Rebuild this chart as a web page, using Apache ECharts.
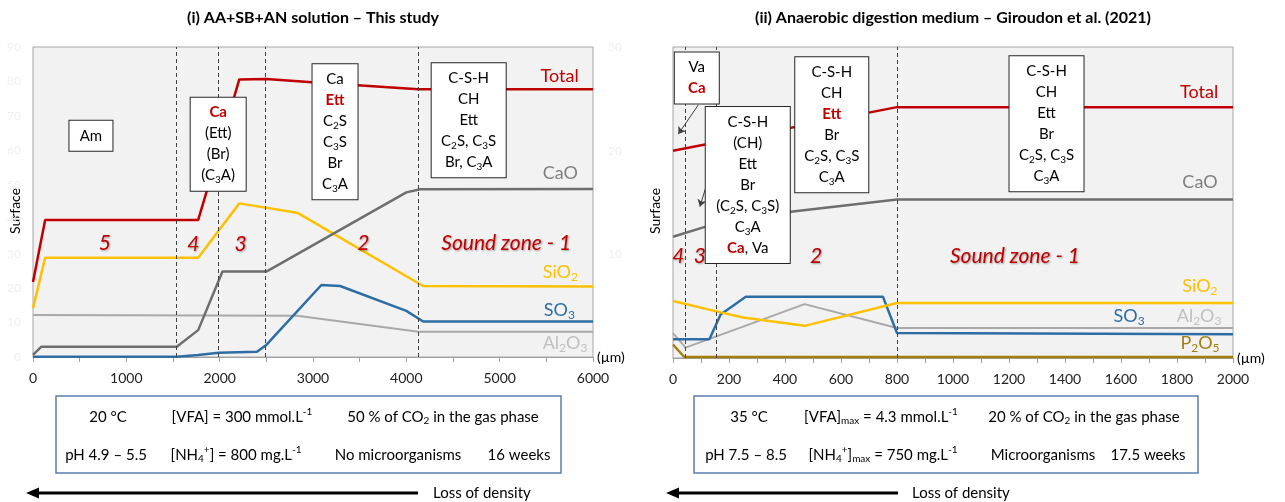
<!DOCTYPE html>
<html>
<head>
<meta charset="utf-8">
<script src="https://cdn.jsdelivr.net/npm/echarts@6/dist/echarts.min.js"></script>
<style>
  html, body { margin: 0; padding: 0; background: #fff; }
  #chart { width: 1285px; height: 502px; }
</style>
</head>
<body>
<div id="chart"></div>
<script>
// ---- (i) AA+SB+AN solution: oxide surface profiles vs depth (µm) ----
const leftTotal = [[0, 21.8], [130, 39.8], [1770, 39.8], [1860, 48.0], [2210, 80.6], [2500, 80.7], [2990, 79.8], [4130, 77.7], [6000, 77.7]];
const leftCaO   = [[0, 0.6], [90, 3.0], [1540, 3.0], [1770, 7.8], [2030, 24.8], [2500, 24.8], [4000, 47.8], [4150, 48.7], [6000, 48.8]];
const leftSiO2  = [[0, 14.2], [130, 28.8], [1770, 28.8], [2210, 44.6], [2830, 41.9], [4180, 20.6], [6000, 20.5]];
const leftSO3   = [[0, 0.1], [1540, 0.1], [1770, 0.6], [1990, 1.2], [2400, 1.5], [2500, 3.5], [3090, 20.9], [3290, 20.6], [4000, 13.4], [4180, 10.3], [6000, 10.3]];
const leftAl2O3 = [[0, 12.2], [2830, 12.0], [4130, 7.3], [6000, 7.3]];
const leftZoneBounds = [1530, 1990, 2490, 4130];

// ---- (ii) Anaerobic digestion medium (Giroudon et al. 2021) ----
const rightTotal = [[0, 20.0], [800, 24.2], [2000, 24.2]];
const rightCaO   = [[0, 11.7], [120, 12.7], [420, 14.1], [800, 15.3], [2000, 15.3]];
const rightSiO2  = [[0, 5.5], [170, 4.4], [250, 3.9], [470, 3.1], [800, 5.3], [2000, 5.3]];
const rightAl2O3 = [[0, 2.4], [45, 1.0], [470, 5.2], [800, 2.9], [2000, 2.9]];
const rightSO3   = [[0, 1.8], [130, 1.8], [170, 4.2], [260, 5.9], [750, 5.9], [800, 2.4], [2000, 2.3]];
const rightP2O5  = [[0, 1.3], [40, 0.1], [2000, 0.1]];
const rightZoneBounds = [43, 156, 800];

// axis ranges and tick steps
const leftXAxis  = { max: 6000, step: 500, labelStep: 1000 };
const rightXAxis = { max: 2000, step: 100, labelStep: 200 };
const leftYAxis  = { max: 90, step: 10 };
const rightYAxis = { max: 30, step: 10 };

// texts
const titles = ['(i) AA+SB+AN solution – This study', '(ii) Anaerobic digestion medium – Giroudon et al. (2021)'];
const zoneNames = ['5', '4', '3', '2', 'Sound zone - 1'];
const rightZoneNames = ['4', '3', '2', 'Sound zone - 1'];

const FF = 'Lato';
const C = {
  total: '#c00000', cao: '#6e6e6e', sio2: '#ffc000', so3: '#2e6da4', al2o3: '#a9a9a9', p2o5: '#a37f12',
  caoText: '#808080', al2o3Text: '#c0c0c0'
};

const chart = echarts.init(document.getElementById('chart'), null, { renderer: 'canvas' });

// rich styles for box annotations (subscripts and red bold words)
function boxRich() {
  return {
    s: { fontFamily: FF, fontSize: 10, color: '#000', verticalAlign: 'bottom', lineHeight: 21, padding: [0, 0, 1, 0] },
    r: { fontFamily: FF, fontSize: 15, color: C.total, fontWeight: 'bold', lineHeight: 21 }
  };
}
function box(coord, text, width) {
  return {
    coord: coord, symbol: 'circle', symbolSize: 1, itemStyle: { color: 'rgba(0,0,0,0)' },
    label: {
      show: true, position: 'inside', formatter: text, width: width,
      fontFamily: FF, fontSize: 15, color: '#000', lineHeight: 21, align: 'center',
      backgroundColor: '#fff', borderColor: '#262626', borderWidth: 1, padding: [4.5, 6],
      rich: boxRich()
    }
  };
}
function zone(coord, text) {
  return {
    coord: coord, symbol: 'circle', symbolSize: 1, itemStyle: { color: 'rgba(0,0,0,0)' },
    label: {
      show: true, position: 'inside', formatter: text,
      fontFamily: FF, fontSize: 21, fontStyle: 'italic', color: C.total,
      textShadowColor: 'rgba(0,0,0,0.35)', textShadowBlur: 2, textShadowOffsetX: 1, textShadowOffsetY: 1
    }
  };
}
function seriesTag(coord, text, color) {
  return {
    coord: coord, symbol: 'circle', symbolSize: 1, itemStyle: { color: 'rgba(0,0,0,0)' },
    label: {
      show: true, position: 'inside', formatter: text,
      fontFamily: FF, fontSize: 18, color: color, lineHeight: 22,
      rich: { s: { fontFamily: FF, fontSize: 12, color: color, verticalAlign: 'bottom', lineHeight: 22, padding: [0, 0, 0, 0] } }
    }
  };
}
function line(name, data, color, grid, extra) {
  return Object.assign({
    name: name, type: 'line', data: data, xAxisIndex: grid, yAxisIndex: grid,
    symbol: 'none', showSymbol: false, lineStyle: { color: color, width: 2.5 }, itemStyle: { color: color },
    silent: true, animation: false
  }, extra || {});
}
function dashed(bounds) {
  return {
    silent: true, symbol: ['none', 'none'], label: { show: false },
    lineStyle: { type: [4, 3], color: '#404040', width: 1 },
    data: bounds.map(v => ({ xAxis: v }))
  };
}
function xAxis(grid, cfg) {
  return {
    gridIndex: grid, type: 'value', min: 0, max: cfg.max, interval: cfg.step,
    splitLine: { show: false },
    axisLine: { show: true, lineStyle: { color: '#a0a0a0', width: 1 } },
    axisTick: { show: true, inside: false, length: 5, lineStyle: { color: '#a0a0a0' } },
    axisLabel: { formatter: v => (v % cfg.labelStep === 0 ? String(v) : ''), color: '#222', fontFamily: FF, fontSize: 14, margin: 14 },
    name: '(µm)', nameLocation: 'end', nameGap: 4,
    nameTextStyle: { fontFamily: FF, fontSize: 14, color: '#000', verticalAlign: 'middle', align: 'left' }
  };
}
function yAxis(grid, cfg, margin, hideZero) {
  return {
    gridIndex: grid, type: 'value', min: 0, max: cfg.max, interval: cfg.step,
    splitLine: { show: false }, axisLine: { show: false }, axisTick: { show: false },
    axisLabel: { color: '#efefef', fontFamily: FF, fontSize: 12, margin: margin, formatter: v => (hideZero && v === 0 ? '' : String(v)) }
  };
}

// info-box rich styles (zrender style names)
const infoRich = {
  sub: { fontFamily: FF, fontSize: 10, fill: '#000', verticalAlign: 'bottom', lineHeight: 20, padding: [0, 0, 1, 0] },
  sup: { fontFamily: FF, fontSize: 10, fill: '#000', verticalAlign: 'top', lineHeight: 20 }
};
function txt(x, y, text, extra, rotation) {
  return {
    type: 'text', x: x, y: y, rotation: rotation || 0, silent: true,
    style: Object.assign({ text: text, fill: '#000', fontFamily: FF, fontSize: 15, align: 'center', verticalAlign: 'middle', lineHeight: 20, rich: infoRich }, extra || {})
  };
}
function arrow(x1, x2, y) {
  return [
    { type: 'line', silent: true, shape: { x1: x2, y1: y, x2: x1 + 8, y2: y }, style: { stroke: '#000', lineWidth: 3 } },
    { type: 'polygon', silent: true, shape: { points: [[x1 - 2, y], [x1 + 11, y - 5.5], [x1 + 11, y + 5.5]] }, style: { fill: '#000' } }
  ];
}

const graphics = [
  txt(313, 18, titles[0], { fontSize: 16, fontWeight: 'bold' }),
  txt(953, 18, titles[1], { fontSize: 16, fontWeight: 'bold' }),
  txt(15, 211, 'Surface', { fontSize: 14 }, Math.PI / 2),
  txt(655, 211, 'Surface', { fontSize: 14 }, Math.PI / 2),
  // experimental conditions (left)
  { type: 'rect', silent: true, shape: { x: 56, y: 396, width: 505, height: 77 }, style: { fill: '#fff', stroke: '#5b7fae', lineWidth: 1.5 } },
  txt(108, 417, '20 °C'),
  txt(242, 417, '[VFA] = 300 mmol.L{sup|-1}'),
  txt(443, 417, '50 % of CO{sub|2} in the gas phase'),
  txt(106, 455, 'pH 4.9 – 5.5'),
  txt(236, 455, '[NH{sub|4}{sup|+}] = 800 mg.L{sup|-1}'),
  txt(398, 455, 'No microorganisms'),
  txt(519, 455, '16 weeks'),
  // experimental conditions (right)
  { type: 'rect', silent: true, shape: { x: 694, y: 396, width: 504, height: 77 }, style: { fill: '#fff', stroke: '#5b7fae', lineWidth: 1.5 } },
  txt(749, 417, '35 °C'),
  txt(881, 417, '[VFA]{sub|max} = 4.3 mmol.L{sup|-1}'),
  txt(1084, 417, '20 % of CO{sub|2} in the gas phase'),
  txt(746, 455, 'pH 7.5 – 8.5'),
  txt(883, 455, '[NH{sub|4}{sup|+}]{sub|max} = 750 mg.L{sup|-1}'),
  txt(1043, 455, 'Microorganisms'),
  txt(1148, 455, '17.5 weeks'),
  // density-loss arrows
  ...arrow(28, 418, 493),
  txt(433, 493, 'Loss of density', { align: 'left' }),
  ...arrow(668, 898, 493),
  txt(912, 493, 'Loss of density', { align: 'left' })
];

const option = {
  animation: false,
  textStyle: { fontFamily: FF },
  grid: [
    { left: 33, top: 47, width: 560, height: 310, show: true, backgroundColor: '#f2f2f2', borderColor: '#a6a6a6', borderWidth: 1 },
    { left: 673, top: 47, width: 560, height: 311, show: true, backgroundColor: '#f2f2f2', borderColor: '#a6a6a6', borderWidth: 1 }
  ],
  xAxis: [xAxis(0, leftXAxis), xAxis(1, rightXAxis)],
  yAxis: [yAxis(0, leftYAxis, 12, false), yAxis(1, rightYAxis, 51, true)],
  series: [
    // left panel
    line('Al2O3', leftAl2O3, C.al2o3, 0, {
      lineStyle: { color: C.al2o3, width: 2 },
      markLine: dashed(leftZoneBounds),
      markPoint: { data: [seriesTag([5700, 4.1], 'Al{s|2}O{s|3}', C.al2o3Text)] }
    }),
    line('SO3', leftSO3, C.so3, 0, { markPoint: { data: [seriesTag([5640, 13.6], 'SO{s|3}', C.so3)] } }),
    line('SiO2', leftSiO2, C.sio2, 0, { markPoint: { data: [seriesTag([5650, 24.6], 'SiO{s|2}', C.sio2)] } }),
    line('CaO', leftCaO, C.cao, 0, { markPoint: { data: [seriesTag([5650, 53.5], 'CaO', C.caoText)] } }),
    line('Total', leftTotal, C.total, 0, {
      markPoint: {
        z: 6,
        data: [
          seriesTag([5643, 81.4], 'Total', C.total),
          zone([771, 33.0], zoneNames[0]),
          zone([1718, 32.6], zoneNames[1]),
          zone([2225, 32.6], zoneNames[2]),
          zone([3539, 33.0], zoneNames[3]),
          zone([5071, 33.0], zoneNames[4]),
          box([621, 64.2], 'Am', 31),
          box([1984, 61.8], '{r|Ca}\n(Ett)\n(Br)\n(C{s|3}A)', 43),
          box([3236, 65.4], 'Ca\n{r|Ett}\nC{s|2}S\nC{s|3}S\nBr\nC{s|3}A', 33),
          box([4668, 68.7], 'C-S-H\nCH\nEtt\nC{s|2}S, C{s|3}S\nBr, C{s|3}A', 62)
        ]
      }
    }),
    // right panel
    line('P2O5', rightP2O5, C.p2o5, 1, { markPoint: { data: [seriesTag([1882, 1.4], 'P{s|2}O{s|5}', C.p2o5)] } }),
    line('Al2O3', rightAl2O3, C.al2o3, 1, {
      lineStyle: { color: C.al2o3, width: 2 },
      markLine: dashed(rightZoneBounds),
      markPoint: { data: [seriesTag([1879, 4.0], 'Al{s|2}O{s|3}', C.al2o3Text)] }
    }),
    line('SO3', rightSO3, C.so3, 1, { markPoint: { data: [seriesTag([1629, 4.0], 'SO{s|3}', C.so3)] } }),
    line('SiO2', rightSiO2, C.sio2, 1, { markPoint: { data: [seriesTag([1882, 6.9], 'SiO{s|2}', C.sio2)] } }),
    line('CaO', rightCaO, C.cao, 1, { markPoint: { data: [seriesTag([1882, 17.0], 'CaO', C.caoText)] } }),
    line('Total', rightTotal, C.total, 1, {
      markLine: {
        silent: true, z: 5, symbol: ['none', 'arrow'], symbolSize: 7, label: { show: false },
        lineStyle: { type: 'solid', color: '#404040', width: 1 },
        data: [
          [{ coord: [90, 24.4] }, { coord: [19, 21.6] }],
          [{ coord: [120, 16.7] }, { coord: [96, 14.6] }]
        ]
      },
      markPoint: {
        z: 6,
        data: [
          seriesTag([1879, 25.6], 'Total', C.total),
          zone([19, 9.8], rightZoneNames[0]),
          zone([96, 9.8], rightZoneNames[1]),
          zone([511, 9.8], rightZoneNames[2]),
          zone([1221, 9.8], rightZoneNames[3]),
          box([85, 27.0], 'Va\n{r|Ca}', 32),
          box([267, 16.7], 'C-S-H\n(CH)\nEtt\nBr\n(C{s|2}S, C{s|3}S)\nC{s|3}A\n{r|Ca}, Va', 72),
          box([567, 22.5], 'C-S-H\nCH\n{r|Ett}\nBr\nC{s|2}S, C{s|3}S\nC{s|3}A', 61),
          box([1334, 22.6], 'C-S-H\nCH\nEtt\nBr\nC{s|2}S, C{s|3}S\nC{s|3}A', 62)
        ]
      }
    })
  ],
  graphic: graphics
};

chart.setOption(option);
</script>
</body>
</html>
